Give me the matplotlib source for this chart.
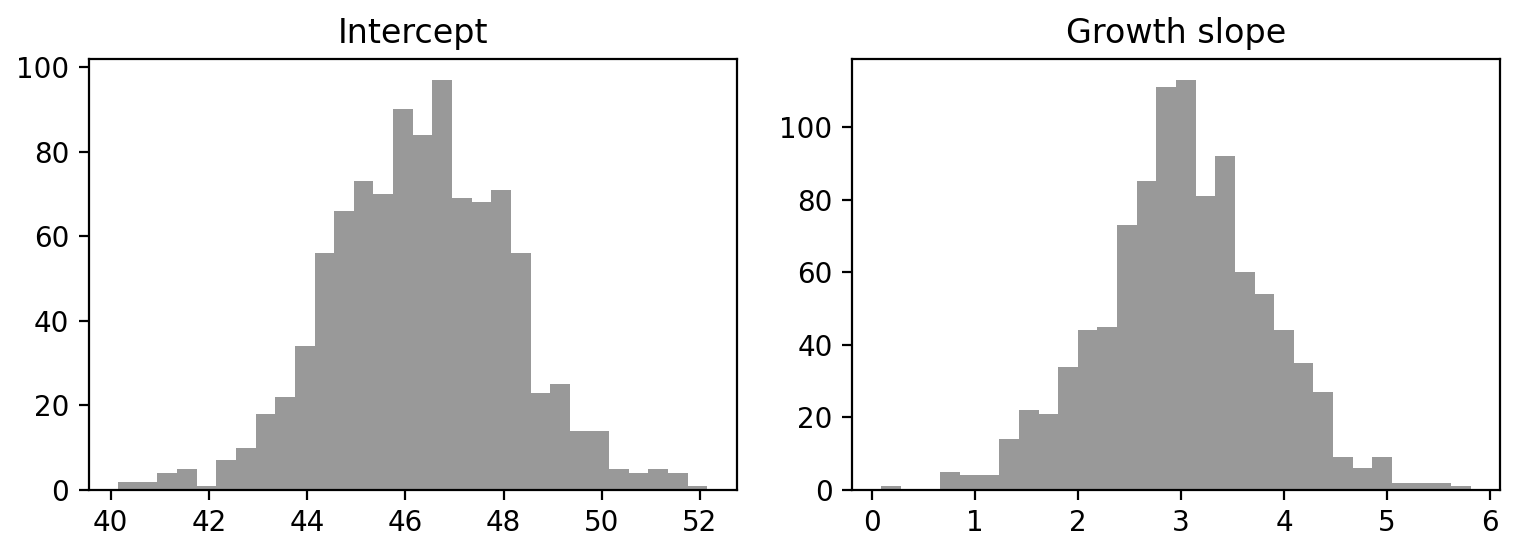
import numpy as np
import matplotlib
matplotlib.use("Agg")
import matplotlib.pyplot as plt

# Histogram counts (30 bins each)
intercept_counts = [2, 2, 4, 5, 1, 7, 10, 18, 22, 34, 56, 66, 73, 70, 90,
                    84, 97, 69, 68, 71, 56, 23, 25, 14, 14, 5, 4, 5, 4, 1]
intercept_range = (40.15, 52.15)

slope_counts = [1, 0, 0, 5, 4, 4, 14, 22, 21, 34, 44, 45, 73, 85, 111,
                113, 81, 92, 60, 54, 44, 35, 27, 9, 6, 9, 2, 2, 2, 1]
slope_range = (0.09, 5.81)

titles = ["Intercept", "Growth slope"]

fig, axes = plt.subplots(1, 2, figsize=(7.595, 2.78), dpi=200)
fig.subplots_adjust(left=0.0584, right=0.9875, bottom=0.1187, top=0.8933, wspace=0.178)

for ax, counts, rng, title in zip(axes, [intercept_counts, slope_counts],
                                  [intercept_range, slope_range], titles):
    edges = np.linspace(rng[0], rng[1], len(counts) + 1)
    ax.hist(edges[:-1], bins=edges, weights=counts, color="k", alpha=0.4)
    ax.set_title(title)

fig.savefig("out.png", dpi=200)
